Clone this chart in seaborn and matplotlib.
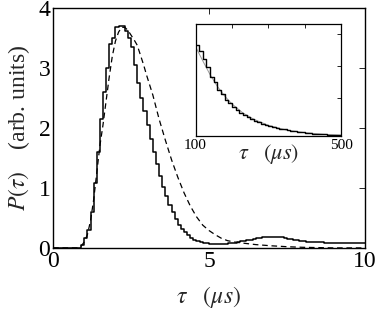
import numpy as np
import pandas as pd
import seaborn as sns
import matplotlib.pyplot as plt

sns.set_theme(style="white")
plt.rcParams['font.family'] = ['Liberation Serif', 'DejaVu Serif']
plt.rcParams['mathtext.fontset'] = 'stix'

# main histogram, 0.1 us bins (left edges from 0.0 to 9.9)
hist_vals = [
    0, 0, 0, 0, 0, 0, 0, 0, 0, 0.05,
    0.16, 0.3, 0.6, 1.08, 1.6, 2.15, 2.6, 3.0, 3.4, 3.5,
    3.68, 3.7, 3.7, 3.62, 3.5, 3.35, 3.05, 2.75, 2.5, 2.28,
    2.05, 1.82, 1.6, 1.4, 1.2, 1.02, 0.86, 0.72, 0.6, 0.48,
    0.39, 0.32, 0.26, 0.21, 0.17, 0.14, 0.12, 0.1, 0.09, 0.08,
    0.07, 0.065, 0.06, 0.06, 0.065, 0.07, 0.075, 0.08, 0.09, 0.1,
    0.11, 0.12, 0.13, 0.14, 0.15, 0.16, 0.17, 0.175, 0.18, 0.182,
    0.185, 0.183, 0.18, 0.175, 0.165, 0.155, 0.145, 0.135, 0.125, 0.118,
    0.11, 0.105, 0.1, 0.097, 0.095, 0.093, 0.092, 0.09, 0.09, 0.09,
    0.09, 0.09, 0.088, 0.088, 0.088, 0.088, 0.087, 0.087, 0.087, 0.087,
]
hist_edges = np.round(np.arange(0, 10.01, 0.1), 2)

# model curve (dashed)
model_tau = [0, 0.8, 0.9, 1.0, 1.1, 1.2, 1.3, 1.4, 1.5, 1.6, 1.7, 1.8, 1.9, 2.0,
             2.1, 2.2, 2.3, 2.4, 2.5, 2.6, 2.7, 2.8, 2.9, 3.0, 3.2, 3.4, 3.6,
             3.8, 4.0, 4.2, 4.4, 4.6, 4.8, 5.0, 5.2, 5.4, 5.6, 5.8, 6.0, 6.5,
             7.0, 7.5, 8.0, 8.5, 9.0, 10.0]
model_vals = [0, 0, 0.03, 0.1, 0.22, 0.45, 0.8, 1.25, 1.7, 2.05, 2.45, 2.85, 3.2, 3.45,
              3.6, 3.68, 3.68, 3.63, 3.55, 3.47, 3.38, 3.22, 3.06, 2.88, 2.55, 2.15, 1.8,
              1.47, 1.18, 0.92, 0.7, 0.52, 0.38, 0.29, 0.22, 0.16, 0.12, 0.1, 0.085, 0.055,
              0.035, 0.02, 0.01, 0.005, 0.0, 0.0]

# inset histogram, 10 us bins from 100 to 500
inset_vals = [2.85, 2.65, 2.4, 2.15, 1.85, 1.7, 1.45, 1.3, 1.12, 1.02,
              0.92, 0.82, 0.72, 0.66, 0.58, 0.52, 0.47, 0.44, 0.38, 0.35,
              0.31, 0.28, 0.25, 0.22, 0.2, 0.18, 0.16, 0.14, 0.12, 0.11,
              0.09, 0.08, 0.07, 0.065, 0.055, 0.05, 0.04, 0.035, 0.03, 0.025]
inset_edges = np.arange(100, 501, 10)
inset_fit_tau = [100, 120, 140, 160, 180, 200, 230, 260, 300, 350, 400, 450, 500]
inset_fit_vals = [2.8, 2.35, 1.92, 1.55, 1.25, 1.0, 0.72, 0.52, 0.33, 0.18, 0.1, 0.05, 0.02]

hist_df = pd.DataFrame({"tau": hist_edges, "P": hist_vals + [hist_vals[-1]]})
model_df = pd.DataFrame({"tau": model_tau, "P": model_vals})
inset_df = pd.DataFrame({"tau": inset_edges, "P": inset_vals + [inset_vals[-1]]})
fit_df = pd.DataFrame({"tau": inset_fit_tau, "P": inset_fit_vals})

fig = plt.figure(figsize=(3.82, 3.13), dpi=100)
ax = fig.add_axes([0.139, 0.208, 0.816, 0.766])

sns.lineplot(data=hist_df, x="tau", y="P", ax=ax, color="black", lw=1.1,
             drawstyle="steps-post", sort=False)
sns.lineplot(data=model_df, x="tau", y="P", ax=ax, color="black", lw=0.9,
             sort=False, dashes=False, linestyle=(0, (4.5, 3)))

ax.set_xlim(0, 10)
ax.set_ylim(0, 4)
ax.set_xticks([0, 5, 10])
ax.set_yticks([0, 1, 2, 3, 4])
ax.tick_params(direction="in", top=True, right=True, length=4, width=0.6,
               labelsize=17, colors="black", pad=2)
for s in ax.spines.values():
    s.set_linewidth(1.0)
    s.set_color("black")
ax.set_xlabel(r"$\tau\quad(\mu s)$", fontsize=17, labelpad=9)
ax.set_ylabel(r"$P(\tau)\quad\;$(arb. units)", fontsize=17, labelpad=5)

axi = fig.add_axes([0.512, 0.566, 0.381, 0.356])
sns.lineplot(data=fit_df, x="tau", y="P", ax=axi, color="0.6", lw=0.7, sort=False)
sns.lineplot(data=inset_df, x="tau", y="P", ax=axi, color="black", lw=1.0,
             drawstyle="steps-post", sort=False)
axi.set_xlim(100, 500)
axi.set_ylim(0, 3.5)
axi.set_xticks([100, 200, 300, 400, 500])
axi.set_xticklabels(["100", "", "", "", "500"])
axi.set_yticks([1.2, 2.2, 3.2])
axi.set_yticklabels([])
axi.tick_params(direction="in", top=True, right=True, length=3, width=0.6,
                labelsize=11, colors="black", pad=2)
for s in axi.spines.values():
    s.set_linewidth(0.9)
    s.set_color("black")
axi.set_xlabel(r"$\tau\quad(\mu s)$", fontsize=16, labelpad=-7)
axi.set_ylabel("")

fig.savefig("out.png", dpi=100)
